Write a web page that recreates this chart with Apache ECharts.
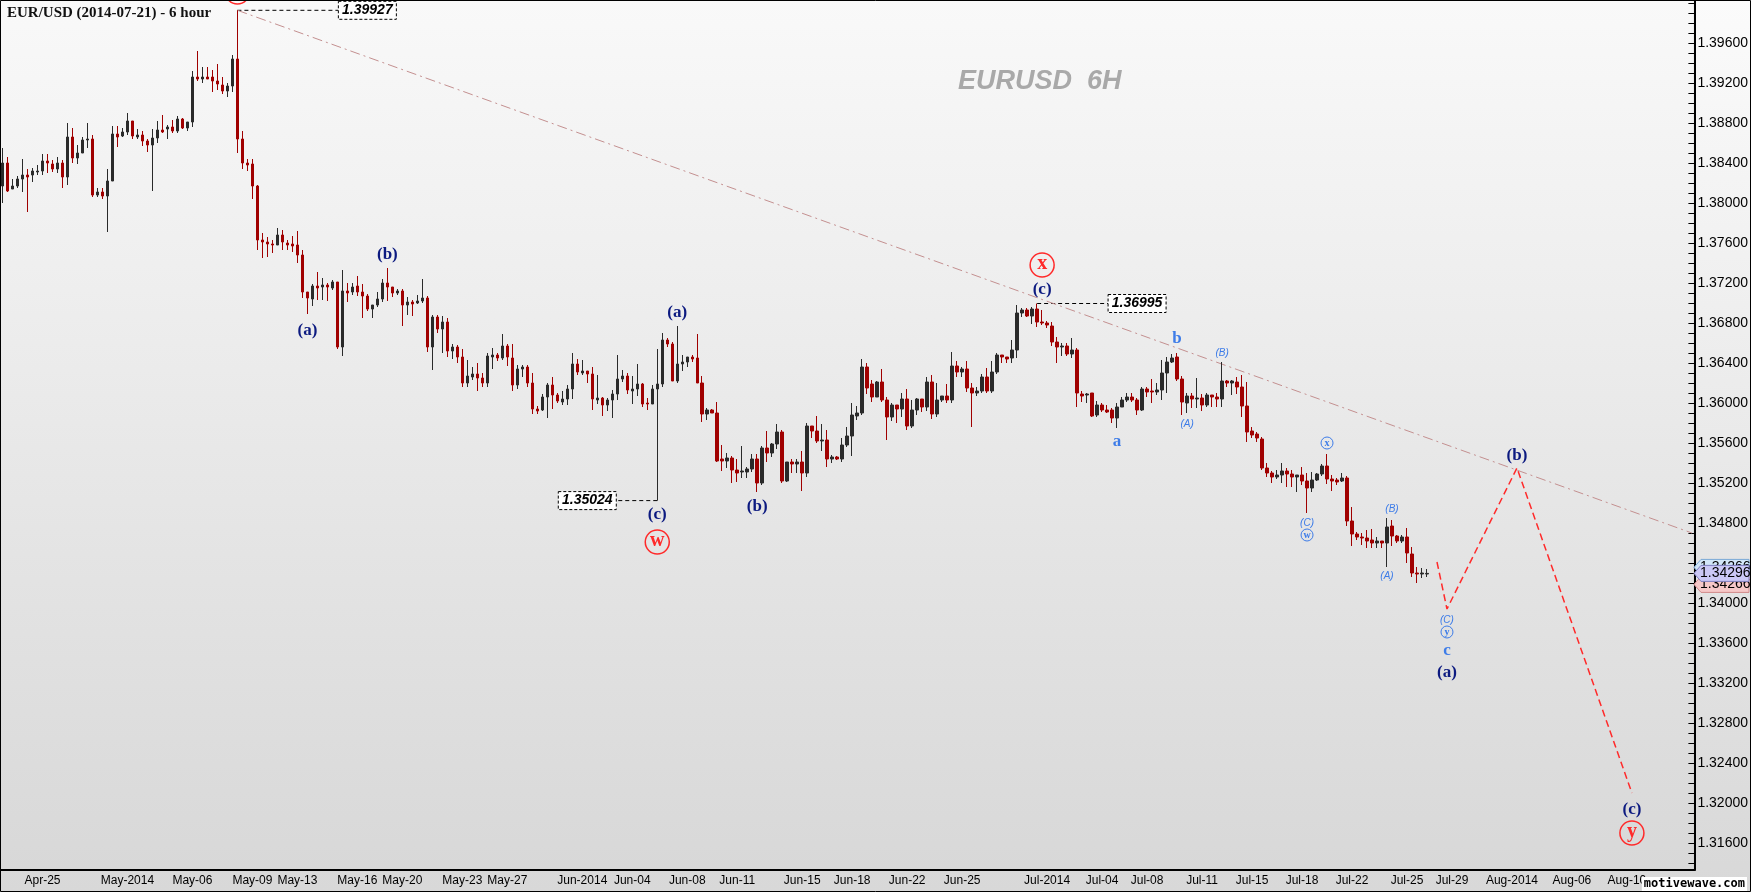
<!DOCTYPE html>
<html><head><meta charset="utf-8">
<script src="https://cdn.jsdelivr.net/npm/echarts@6/dist/echarts.min.js"></script>
<style>html,body{margin:0;padding:0;background:#fff}#c{width:1751px;height:892px;background:linear-gradient(#fbfbfb,#d8d8d8)}</style>
</head><body><div id="c"></div>
<script>
// [open, high, low, close] per 6-hour candle
const candles = [
[1.3817,1.3855,1.3800,1.3840],[1.3840,1.3846,1.3811,1.3812],[1.3814,1.3824,1.3814,1.3817],[1.3817,1.3827,1.3815,1.3824],
[1.3824,1.3844,1.3811,1.3828],[1.3828,1.3834,1.3791,1.3826],[1.3828,1.3835,1.3821,1.3832],[1.3831,1.3838,1.3828,1.3832],
[1.3832,1.3849,1.3828,1.3842],[1.3842,1.3849,1.3830,1.3840],[1.3839,1.3843,1.3831,1.3834],[1.3834,1.3846,1.3830,1.3840],
[1.3840,1.3843,1.3815,1.3826],[1.3826,1.3880,1.3818,1.3866],[1.3866,1.3875,1.3840,1.3845],[1.3845,1.3858,1.3839,1.3850],
[1.3850,1.3866,1.3850,1.3863],[1.3863,1.3880,1.3855,1.3864],[1.3864,1.3868,1.3806,1.3808],[1.3808,1.3815,1.3806,1.3811],
[1.3811,1.3815,1.3804,1.3807],[1.3807,1.3834,1.3771,1.3822],[1.3822,1.3877,1.3822,1.3869],[1.3869,1.3877,1.3856,1.3866],
[1.3867,1.3875,1.3866,1.3871],[1.3871,1.3890,1.3868,1.3882],[1.3882,1.3882,1.3864,1.3867],[1.3866,1.3874,1.3864,1.3868],
[1.3868,1.3872,1.3857,1.3862],[1.3862,1.3864,1.3851,1.3858],[1.3858,1.3874,1.3812,1.3865],[1.3865,1.3882,1.3860,1.3873],
[1.3873,1.3888,1.3870,1.3871],[1.3874,1.3878,1.3864,1.3876],[1.3876,1.3883,1.3870,1.3872],[1.3872,1.3887,1.3870,1.3884],
[1.3884,1.3885,1.3874,1.3875],[1.3875,1.3881,1.3872,1.3881],[1.3881,1.3932,1.3876,1.3926],[1.3926,1.3952,1.3922,1.3924],
[1.3924,1.3936,1.3920,1.3926],[1.3926,1.3936,1.3924,1.3924],[1.3926,1.3933,1.3911,1.3922],[1.3922,1.3939,1.3913,1.3919],
[1.3918,1.3926,1.3909,1.3912],[1.3912,1.3920,1.3906,1.3917],[1.3917,1.3948,1.3911,1.3944],[1.3944,1.39927,1.3850,1.3864],
[1.3864,1.3872,1.3834,1.3840],[1.3840,1.3844,1.3832,1.3838],[1.3839,1.3844,1.3804,1.3817],[1.3817,1.3818,1.3753,1.3763],
[1.3763,1.3770,1.3745,1.3761],[1.3761,1.3766,1.3746,1.3759],[1.3759,1.3763,1.3750,1.3758],[1.3758,1.3775,1.3758,1.3768],
[1.3768,1.3773,1.3753,1.3761],[1.3760,1.3763,1.3753,1.3758],[1.3759,1.3767,1.3751,1.3757],[1.3758,1.3772,1.3740,1.3748],
[1.3748,1.3753,1.3705,1.3711],[1.3711,1.3711,1.3689,1.3705],[1.3704,1.3719,1.3697,1.3717],[1.3717,1.3731,1.3703,1.3715],
[1.3716,1.3725,1.3703,1.3718],[1.3718,1.3720,1.3702,1.3716],[1.3715,1.3723,1.3713,1.3721],[1.3721,1.3721,1.3654,1.3656],
[1.3656,1.3733,1.3647,1.3712],[1.3712,1.3720,1.3701,1.3710],[1.3711,1.3720,1.3708,1.3716],[1.3717,1.3727,1.3707,1.3711],
[1.3711,1.3719,1.3685,1.3707],[1.3707,1.3709,1.3692,1.3694],[1.3694,1.3698,1.3685,1.3698],[1.3698,1.3711,1.3696,1.3704],
[1.3704,1.3724,1.3701,1.3720],[1.3720,1.3735,1.3702,1.3716],[1.3716,1.3716,1.3706,1.3710],[1.3710,1.3714,1.3708,1.3712],
[1.3712,1.3714,1.3677,1.3698],[1.3698,1.3706,1.3688,1.3701],[1.3701,1.3703,1.3687,1.3699],[1.3700,1.3708,1.3699,1.3702],
[1.3702,1.3724,1.3700,1.3705],[1.3705,1.3707,1.3651,1.3656],[1.3656,1.3688,1.3633,1.3686],[1.3686,1.3688,1.3670,1.3674],
[1.3674,1.3687,1.3650,1.3681],[1.3681,1.3685,1.3646,1.3652],[1.3652,1.3659,1.3644,1.3656],[1.3656,1.3658,1.3640,1.3646],
[1.3646,1.3654,1.3616,1.3620],[1.3620,1.3643,1.3616,1.3627],[1.3626,1.3636,1.3623,1.3629],[1.3629,1.3640,1.3612,1.3625],
[1.3625,1.3630,1.3616,1.3620],[1.3620,1.3650,1.3616,1.3647],[1.3646,1.3655,1.3634,1.3648],[1.3648,1.3650,1.3642,1.3645],
[1.3645,1.3669,1.3643,1.3657],[1.3657,1.3659,1.3637,1.3646],[1.3645,1.3659,1.3612,1.3618],[1.3618,1.3638,1.3614,1.3634],
[1.3634,1.3638,1.3626,1.3636],[1.3636,1.3638,1.3616,1.3620],[1.3620,1.3630,1.3589,1.3594],[1.3594,1.3597,1.3589,1.3592],
[1.3593,1.3609,1.3592,1.3606],[1.3606,1.3620,1.3585,1.3618],[1.3618,1.3626,1.3594,1.3608],[1.3608,1.3610,1.3600,1.3602],
[1.3601,1.3612,1.3598,1.3604],[1.3604,1.3618,1.3598,1.3614],[1.3614,1.3650,1.3604,1.3639],[1.3639,1.3644,1.3628,1.3631],
[1.3630,1.3643,1.3628,1.3632],[1.3632,1.3632,1.3620,1.3629],[1.3629,1.3636,1.3593,1.3604],[1.3603,1.3628,1.3599,1.3605],
[1.3605,1.3606,1.3587,1.3598],[1.3598,1.3605,1.3592,1.3603],[1.3603,1.3613,1.3585,1.3609],[1.3609,1.3648,1.3603,1.3624],
[1.3624,1.3633,1.3621,1.3627],[1.3627,1.3630,1.3609,1.3613],[1.3612,1.3627,1.3599,1.3614],[1.3614,1.3639,1.3607,1.3619],
[1.3619,1.3620,1.3596,1.3599],[1.3600,1.3605,1.3593,1.3599],[1.3599,1.3618,1.3599,1.3614],[1.3614,1.3654,1.35024,1.3619],
[1.3619,1.3670,1.3616,1.3663],[1.3663,1.3665,1.3656,1.3659],[1.3659,1.3661,1.3622,1.3622],[1.3622,1.3677,1.3620,1.3639],
[1.3639,1.3648,1.3632,1.3641],[1.3641,1.3646,1.3636,1.3646],[1.3646,1.3648,1.3641,1.3644],[1.3645,1.3669,1.3620,1.3620],
[1.3620,1.3627,1.3581,1.3589],[1.3589,1.3595,1.3583,1.3593],[1.3593,1.3594,1.3590,1.3590],[1.3590,1.3601,1.3541,1.3542],
[1.3544,1.3558,1.3532,1.3542],[1.3542,1.3550,1.3535,1.3545],[1.3545,1.3547,1.3520,1.3533],[1.3533,1.3544,1.3521,1.3530],
[1.3531,1.3557,1.3525,1.3532],[1.3531,1.3536,1.3525,1.3534],[1.3534,1.3549,1.3531,1.3544],[1.3544,1.3549,1.3511,1.3520],
[1.3520,1.3557,1.3518,1.3555],[1.3555,1.3572,1.3541,1.3550],[1.3550,1.3560,1.3546,1.3559],[1.3559,1.3579,1.3554,1.3571],
[1.3571,1.3573,1.3520,1.3522],[1.3522,1.3541,1.3521,1.3541],[1.3541,1.3544,1.3530,1.3539],[1.3539,1.3544,1.3530,1.3541],
[1.3541,1.3552,1.3512,1.3530],[1.3530,1.3580,1.3526,1.3577],[1.3577,1.3577,1.3565,1.3572],[1.3572,1.3587,1.3560,1.3562],
[1.3562,1.3579,1.3552,1.3563],[1.3563,1.3573,1.3536,1.3544],[1.3544,1.3548,1.3540,1.3546],[1.3546,1.3547,1.3543,1.3544],
[1.3544,1.3565,1.3541,1.3558],[1.3558,1.3576,1.3556,1.3567],[1.3567,1.3600,1.3547,1.3588],[1.3587,1.3597,1.3583,1.3590],
[1.3590,1.3644,1.3588,1.3636],[1.3636,1.3640,1.3609,1.3615],[1.3619,1.3623,1.3601,1.3606],[1.3606,1.3622,1.3606,1.3621],
[1.3621,1.3634,1.3601,1.3603],[1.3603,1.3606,1.3563,1.3586],[1.3586,1.3600,1.3582,1.3598],[1.3598,1.3598,1.3580,1.3594],
[1.3594,1.3610,1.3586,1.3604],[1.3604,1.3614,1.3573,1.3577],[1.3577,1.3603,1.3575,1.3593],[1.3593,1.3605,1.3588,1.3604],
[1.3604,1.3604,1.3591,1.3596],[1.3596,1.3626,1.3592,1.3621],[1.3621,1.3628,1.3584,1.3589],[1.3589,1.3620,1.3586,1.3603],
[1.3603,1.3607,1.3601,1.3607],[1.3607,1.3619,1.3600,1.3603],[1.3603,1.3651,1.3600,1.3637],[1.3637,1.3642,1.3626,1.3631],
[1.3631,1.3636,1.3626,1.3634],[1.3634,1.3642,1.3611,1.3615],[1.3615,1.3620,1.3576,1.3610],[1.3610,1.3616,1.3607,1.3612],
[1.3612,1.3629,1.3610,1.3626],[1.3626,1.3635,1.3610,1.3612],[1.3612,1.3642,1.3610,1.3631],[1.3631,1.3650,1.3629,1.3648],
[1.3648,1.3648,1.3640,1.3646],[1.3646,1.3646,1.3640,1.3644],[1.3645,1.3663,1.3640,1.3653],[1.3653,1.3698,1.3645,1.3690],
[1.3690,1.3695,1.3686,1.3693],[1.3693,1.3695,1.3686,1.3687],[1.3687,1.3696,1.3679,1.3694],[1.3694,1.36995,1.3676,1.3681],
[1.3681,1.3693,1.3678,1.3680],[1.3680,1.3682,1.3675,1.3678],[1.3677,1.3681,1.3657,1.3661],[1.3661,1.3666,1.3640,1.3656],
[1.3656,1.3660,1.3647,1.3657],[1.3657,1.3660,1.3647,1.3649],[1.3649,1.3665,1.3645,1.3653],[1.3653,1.3655,1.3596,1.3610],
[1.3609,1.3612,1.3601,1.3607],[1.3608,1.3610,1.3600,1.3609],[1.3610,1.3610,1.3586,1.3587],[1.3588,1.3602,1.3586,1.3598],
[1.3598,1.3600,1.3591,1.3593],[1.3593,1.3598,1.3590,1.3591],[1.3593,1.3595,1.3580,1.3585],[1.3585,1.3600,1.3575,1.3596],
[1.3596,1.3606,1.3596,1.3603],[1.3603,1.3610,1.3601,1.3606],[1.3606,1.3610,1.3601,1.3603],[1.3603,1.3605,1.3588,1.3593],
[1.3593,1.3616,1.3592,1.3614],[1.3614,1.3616,1.3606,1.3611],[1.3612,1.3624,1.3600,1.3611],[1.3611,1.3620,1.3608,1.3613],
[1.3613,1.3643,1.3603,1.3630],[1.3630,1.3646,1.3610,1.3641],[1.3641,1.3649,1.3640,1.3645],[1.3646,1.3650,1.3622,1.3624],
[1.3624,1.3627,1.3588,1.3601],[1.3600,1.3610,1.3590,1.3607],[1.3607,1.3610,1.3595,1.3604],[1.3604,1.3625,1.3595,1.3605],
[1.3605,1.3609,1.3592,1.3598],[1.3598,1.3610,1.3596,1.3608],[1.3608,1.3608,1.3596,1.3606],[1.3606,1.3610,1.3596,1.3604],
[1.3604,1.3641,1.3596,1.3622],[1.3622,1.3623,1.3616,1.3620],[1.3620,1.3623,1.3608,1.3622],[1.3621,1.3626,1.3609,1.3616],
[1.3616,1.3628,1.3586,1.3597],[1.3597,1.3621,1.3561,1.3571],[1.3572,1.3576,1.3565,1.3568],[1.3569,1.3571,1.3561,1.3565],
[1.3564,1.3566,1.3533,1.3535],[1.3535,1.3540,1.3526,1.3530],[1.3530,1.3532,1.3520,1.3526],[1.3526,1.3533,1.3524,1.3528],
[1.3528,1.3540,1.3520,1.3532],[1.3532,1.3535,1.3516,1.3529],[1.3529,1.3533,1.3516,1.3526],[1.3526,1.3528,1.3511,1.3528],
[1.3528,1.3536,1.3518,1.3522],[1.3522,1.3530,1.3490,1.3515],[1.3515,1.3531,1.3511,1.3523],[1.3523,1.3530,1.3522,1.3529],
[1.3529,1.3539,1.3527,1.3537],[1.3537,1.3549,1.3519,1.3524],[1.3524,1.3528,1.3512,1.3522],[1.3523,1.3525,1.3518,1.3521],
[1.3522,1.3530,1.3521,1.3525],[1.3525,1.3527,1.3477,1.3482],[1.3482,1.3496,1.3457,1.3469],[1.3469,1.3471,1.3463,1.3466],
[1.3466,1.3470,1.3458,1.3465],[1.3465,1.3473,1.3455,1.3462],[1.3463,1.3474,1.3455,1.3460],[1.3460,1.3466,1.3455,1.3462],
[1.3462,1.3462,1.3455,1.3460],[1.3460,1.3485,1.3436,1.3476],[1.3477,1.3483,1.3457,1.3467],[1.3467,1.3468,1.3460,1.3462],
[1.3462,1.3468,1.3460,1.3466],[1.3466,1.3475,1.3440,1.3450],[1.3449,1.3456,1.3426,1.3430],[1.3430,1.3436,1.3420,1.3429],
[1.3429,1.3435,1.3425,1.3430],[1.34290,1.3434,1.3426,1.34296]
];
const slotCount = 339;
// x tick labels: [slot index, text]
const xTicks = [[8,'Apr-25'],[25,'May-2014'],[38,'May-06'],[50,'May-09'],[59,'May-13'],[71,'May-16'],[80,'May-20'],
[92,'May-23'],[101,'May-27'],[116,'Jun-2014'],[126,'Jun-04'],[137,'Jun-08'],[147,'Jun-11'],[160,'Jun-15'],[170,'Jun-18'],
[181,'Jun-22'],[192,'Jun-25'],[209,'Jul-2014'],[220,'Jul-04'],[229,'Jul-08'],[240,'Jul-11'],[250,'Jul-15'],[260,'Jul-18'],
[270,'Jul-22'],[281,'Jul-25'],[290,'Jul-29'],[302,'Aug-2014'],[314,'Aug-06'],[325,'Aug-10'],[334,' ']];
// 1.344 is hidden behind the current-price tags in the reference
const yLabels = [1.316,1.320,1.324,1.328,1.332,1.336,1.340,1.348,1.352,1.356,1.360,1.364,1.368,1.372,1.376,1.380,1.384,1.388,1.392,1.396];
const trendLine = [[47,1.39927],[338,1.3470]];
const projection = [[287,1.3441],[289,1.3394],[303,1.3535],[326,1.3210]];
// wave labels: [slot, price, text, style]
const waveLabels = [
[61,1.3672,'(a)','navy'],[77,1.3748,'(b)','navy'],[135,1.3690,'(a)','navy'],[131.3,1.3488,'(c)','navy'],
[151.3,1.3496,'(b)','navy'],[207.5,1.3713,'(c)','navy'],[289,1.3330,'(a)','navy'],[302.9,1.3547,'(b)','navy'],[326,1.3193,'(c)','navy'],
[131.3,1.3461,'w','redc'],[207.5,1.3738,'x','redc'],[326,1.3170,'y','redc'],[47,1.4011,'y','redc'],
[223,1.3561,'a','blue'],[235,1.3664,'b','blue'],[289,1.3352,'c','blue'],
[244.2,1.3650,'(B)','sm'],[236.5,1.3579,'(A)','sm'],[261,1.3480,'(C)','sm'],[277.5,1.3494,'(B)','sm'],[277,1.3427,'(A)','sm'],[289,1.3383,'(C)','sm'],
[264.9,1.3560,'x','bluec'],[261,1.3468,'w','bluec'],[289,1.3371,'y','bluec']
];
// price tags: [slot of candle, price, text, box slot]
const priceTags = [[47,1.39927,'1.39927',72.5],[131,1.35024,'1.35024',117],[207,1.36995,'1.36995',226.5]];
// current price tags on the axis: [price, fill, stroke, vertical offset px]
const axisTags = [[1.34266,'#d2e6f8','#7aa9d6',-9],[1.34266,'#f6c8c8','#d08a8a',8],[1.34296,'#cbc8f6','#7f7fc0',0]];

const cats = Array.from({length:slotCount},(_,i)=>i);
const tickMap = {}; xTicks.forEach(t=>tickMap[t[0]]=t[1]);
const yMin = 1.3133, yMax = 1.4003;
const minorTicks = []; for (let v=1.314; v<=1.4; v=+(v+0.001).toFixed(3)) minorTicks.push(v);

const chart = echarts.init(document.getElementById('c'));
chart.setOption({
  animation:false,
  grid:{left:0,top:0,width:1695,height:870,show:true,borderColor:'#a8a8a0',borderWidth:1,
    backgroundColor:new echarts.graphic.LinearGradient(0,0,0,1,[{offset:0,color:'#f9f9f9'},{offset:1,color:'#d8d8d8'}])},
  xAxis:{type:'category',data:cats,boundaryGap:true,
    axisLine:{lineStyle:{color:'#000',width:2}},
    axisTick:{alignWithLabel:true,interval:(i)=>tickMap[i]!==undefined,lineStyle:{color:'#000'},length:5},
    axisLabel:{interval:(i)=>tickMap[i]!==undefined,formatter:(v)=>tickMap[v]||'',color:'#000',
      fontFamily:'Liberation Sans Narrow, Arial Narrow, sans-serif',fontSize:12,margin:5},
    splitLine:{show:false}},
  yAxis:{type:'value',position:'right',min:yMin,max:yMax,
    axisLine:{show:true,lineStyle:{color:'#000',width:2}},
    axisTick:{show:true,customValues:minorTicks,inside:true,length:6,lineStyle:{color:'#000'}},
    axisLabel:{customValues:yLabels,formatter:(v)=>v.toFixed(5),color:'#000',fontFamily:'Liberation Sans, Arial, sans-serif',fontSize:14,margin:3},
    splitLine:{show:false}},
  series:[
    {type:'candlestick',data:candles.map(c=>[c[0],c[3],c[2],c[1]]),barWidth:3,
      itemStyle:{color:'#2a2a2a',color0:'#a00000',borderColor:'#2a2a2a',borderColor0:'#a00000',borderWidth:1}},
    {type:'line',data:trendLine,symbol:'none',lineStyle:{color:'#c49090',width:1,type:[10,4,2,4]},z:1},
    {type:'line',data:projection,symbol:'none',lineStyle:{color:'#ff2a2a',width:1.5,type:[7,4]}}
  ]
});

const px = (k,p)=>chart.convertToPixel({gridIndex:0},[k,p]);
const g = [];
g.push({type:'text',left:7,top:6,style:{text:'EUR/USD (2014-07-21) - 6 hour',font:'bold 15px "Liberation Serif", serif',fill:'#111'}});
g.push({type:'text',left:958,top:68,style:{text:'EURUSD  6H',font:'italic bold 27px "Liberation Sans", Arial, sans-serif',fill:'#a9a9a9'}});
waveLabels.forEach(([k,p,t,s])=>{
  const [x,y]=px(k,p);
  if(s==='navy') g.push({type:'text',x,y,style:{text:t,font:'bold 17px "Liberation Serif", serif',fill:'#0c1a80',align:'center',verticalAlign:'middle'}});
  else if(s==='blue') g.push({type:'text',x,y,style:{text:t,font:'bold 17px "Liberation Serif", serif',fill:'#3d7ce8',align:'center',verticalAlign:'middle'}});
  else if(s==='sm') g.push({type:'text',x,y,style:{text:t,font:'italic 10px "Liberation Sans", sans-serif',fill:'#3d7ce8',align:'center',verticalAlign:'middle'}});
  else if(s==='redc'){
    g.push({type:'circle',shape:{cx:x,cy:y,r:12},style:{fill:'none',stroke:'#ff2a2a',lineWidth:1.5}});
    g.push({type:'text',x,y:y-1,style:{text:t,font:'bold 20px "Liberation Serif", serif',fill:'#ff2a2a',align:'center',verticalAlign:'middle'}});
  } else if(s==='bluec'){
    g.push({type:'circle',shape:{cx:x,cy:y,r:6},style:{fill:'none',stroke:'#3d7ce8',lineWidth:1}});
    g.push({type:'text',x,y,style:{text:t,font:'bold 10px "Liberation Serif", serif',fill:'#3d7ce8',align:'center',verticalAlign:'middle'}});
  }
});
priceTags.forEach(([k,p,t,bk])=>{
  const [x1,y]=px(k,p); const [bx]=px(bk,p);
  const w=58, left = bx - w/2;
  const lineEnd = bx > x1 ? left : left + w;
  g.push({type:'line',shape:{x1,y1:y,x2:lineEnd,y2:y},style:{stroke:'#000',lineDash:[4,3],lineWidth:1}});
  g.push({type:'rect',shape:{x:left,y:y-9,width:w,height:18},style:{fill:'#fff',stroke:'#000',lineDash:[3,2],lineWidth:1}});
  g.push({type:'text',x:bx,y:y,style:{text:t,font:'italic bold 14px "Liberation Sans", Arial, sans-serif',fill:'#000',align:'center',verticalAlign:'middle'}});
});
axisTags.forEach(([p,f,s,off],i)=>{
  const [,y0]=chart.convertToPixel({gridIndex:0},[0,p]); const yy = y0+off;
  g.push({type:'polygon',z:100+i*2,shape:{points:[[1694,yy],[1701,yy-8],[1749,yy-8],[1749,yy+8],[1701,yy+8]]},style:{fill:f,stroke:s,lineWidth:1}});
  g.push({type:'text',z:101+i*2,x:1700,y:yy,style:{text:p.toFixed(5),font:'14px "Liberation Sans", Arial, sans-serif',fill:'#000',verticalAlign:'middle'}});
});
g.push({type:'text',z:100,x:1747,y:877,style:{text:'motivewave.com',align:'right',font:'bold 12px "DejaVu Sans Mono", monospace',fill:'#000',backgroundColor:'#fff',padding:[1,2]}});
g.push({type:'rect',shape:{x:0.5,y:0.5,width:1750,height:891},style:{fill:'none',stroke:'#000',lineWidth:1}});
chart.setOption({graphic:g});
</script></body></html>
